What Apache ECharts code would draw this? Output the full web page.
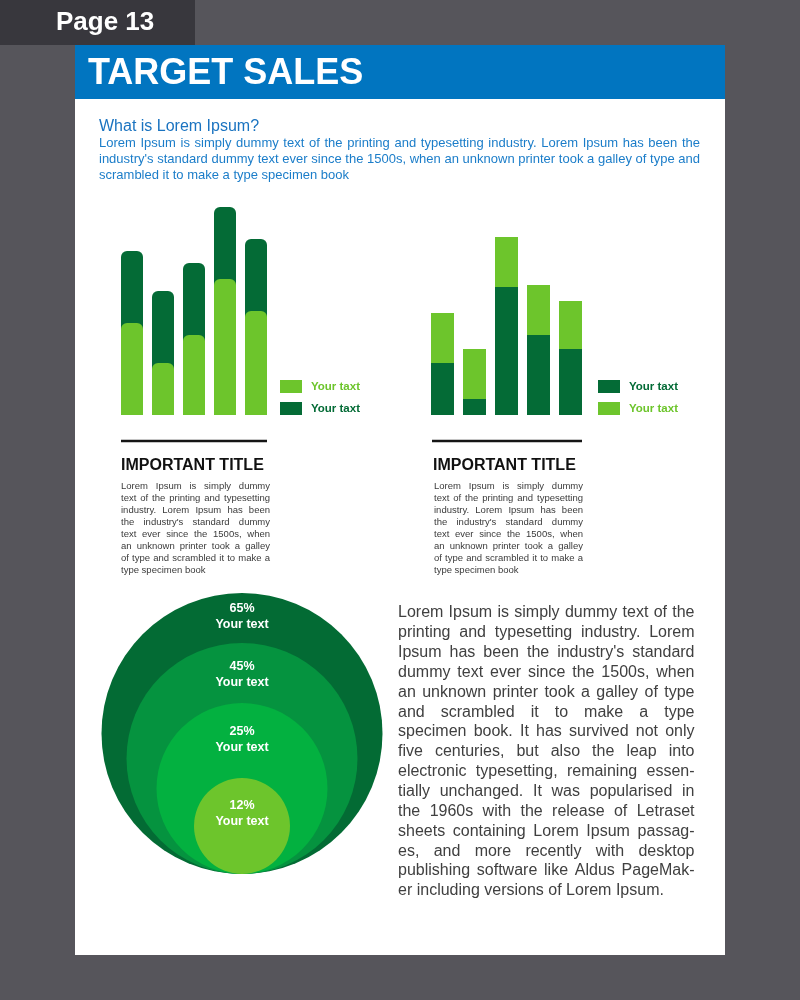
<!DOCTYPE html>
<html><head><meta charset="utf-8">
<script src="https://cdn.jsdelivr.net/npm/echarts@6/dist/echarts.min.js"></script>
<style>html,body{margin:0;padding:0;background:#56555b}#c{width:800px;height:1000px}</style>
</head><body><div id="c"></div>
<script>
// ---------- data ----------
const barCategories = ['1', '2', '3', '4', '5'];
const leftLight = [46, 26, 40, 68, 52];
const leftDark = [36, 36, 36, 36, 36];
const rightDark = [26, 8, 64, 40, 33];
const rightLight = [25, 25, 25, 25, 24];
const legendText = 'Your taxt';
const circleValues = [65, 45, 25, 12];
const circleText = 'Your text';
const pageLabel = 'Page 13';
const mainTitle = 'TARGET SALES';
const introTitle = 'What is Lorem Ipsum?';
const introLines = [
  'Lorem Ipsum is simply dummy text of the printing and typesetting industry. Lorem Ipsum has been the',
  "industry's standard dummy text ever since the 1500s, when an unknown printer took a galley of type and",
  'scrambled it to make a type specimen book'
];
const sectionTitle = 'IMPORTANT TITLE';
const smallLines = [
  'Lorem Ipsum is simply dummy',
  'text of the printing and typesetting',
  'industry. Lorem Ipsum has been',
  "the industry's standard dummy",
  'text ever since the 1500s, when',
  'an unknown printer took a galley',
  'of type and scrambled it to make a',
  'type specimen book'
];
const bodyLines = [
  'Lorem Ipsum is simply dummy text of the',
  'printing and typesetting industry. Lorem',
  "Ipsum has been the industry's standard",
  'dummy text ever since the 1500s, when',
  'an unknown printer took a galley of type',
  'and scrambled it to make a type',
  'specimen book. It has survived not only',
  'five centuries, but also the leap into',
  'electronic typesetting, remaining essen-',
  'tially unchanged. It was popularised in',
  'the 1960s with the release of Letraset',
  'sheets containing Lorem Ipsum passag-',
  'es, and more recently with desktop',
  'publishing software like Aldus PageMak-',
  'er including versions of Lorem Ipsum.'
];

// ---------- styles ----------
const FF = "'Liberation Sans', Arial, Helvetica, sans-serif";
const LIGHT = '#6dc52c';
const DARK = '#046b36';
const circleColors = ['#036b34', '#05933f', '#03b140', '#6dc52c'];
const circleRadius = [140.5, 115.5, 85.5, 48];
const circleLabelOffset = [8, 16, 21, 20];

const mctx = document.createElement('canvas').getContext('2d');
function textEl(str, x, y, size, color, weight, z) {
  return { type: 'text', x: x, y: y + 0.09 * size, z: z || 10, silent: true,
    style: { text: str, fill: color, fontSize: size, fontFamily: FF, fontWeight: weight || 'normal',
      align: 'left', verticalAlign: 'middle' } };
}
function paragraph(lines, x, y, width, lineH, size, color, justifyLast) {
  const els = [];
  mctx.font = 'normal ' + size + "px 'Liberation Sans'";
  const spaceW = mctx.measureText(' ').width;
  lines.forEach(function (line, i) {
    const ty = y + i * lineH;
    const words = line.split(' ');
    const last = i === lines.length - 1 && !justifyLast;
    const widths = words.map(function (w) { return mctx.measureText(w).width; });
    const total = widths.reduce(function (a, b) { return a + b; }, 0);
    const gap = (last || words.length < 2) ? spaceW : (width - total) / (words.length - 1);
    let cx = x;
    words.forEach(function (w, j) {
      els.push(textEl(w, cx, ty, size, color, 'normal'));
      cx += widths[j] + gap;
    });
  });
  return els;
}

const graphics = [
  { type: 'rect', z: 0, silent: true, shape: { x: 0, y: 0, width: 195, height: 45 }, style: { fill: '#38373d' } },
  { type: 'rect', z: 0, silent: true, shape: { x: 75, y: 45, width: 650, height: 910 }, style: { fill: '#ffffff' } },
  { type: 'rect', z: 0, silent: true, shape: { x: 75, y: 45, width: 650, height: 54 }, style: { fill: '#0175c0' } },
  textEl(pageLabel, 56, 20, 26, '#ffffff', 'bold'),
  textEl(mainTitle, 88, 71, 36, '#ffffff', 'bold'),
  textEl(introTitle, 99, 125, 16, '#1a73c0', 'normal'),
  { type: 'line', z: 10, silent: true, shape: { x1: 121, y1: 441, x2: 267, y2: 441 }, style: { stroke: '#151515', lineWidth: 2.5 } },
  { type: 'line', z: 10, silent: true, shape: { x1: 432, y1: 441, x2: 582, y2: 441 }, style: { stroke: '#151515', lineWidth: 2.5 } },
  textEl(sectionTitle, 121, 464, 16, '#111111', 'bold'),
  textEl(sectionTitle, 433, 464, 16, '#111111', 'bold')
].concat(
  paragraph(introLines, 99, 142, 601, 16, 13, '#1b7dc9', false),
  paragraph(smallLines, 121, 486, 149, 12, 9.5, '#3a3a3a', false),
  paragraph(smallLines, 434, 486, 149, 12, 9.5, '#3a3a3a', false),
  paragraph(bodyLines, 398, 611.5, 296.5, 19.85, 16, '#404040', false)
);

const hiddenCat = { type: 'category', data: barCategories, show: false };
const hiddenVal = { type: 'value', min: 0, max: 104, show: false };

const option = {
  backgroundColor: '#56555b',
  animation: false,
  graphic: { elements: graphics },
  grid: [
    { left: 116.5, width: 155, top: 207, height: 208 },
    { left: 426.5, width: 160, top: 207, height: 208 },
    { left: 101.5, width: 281, top: 593, height: 281 }
  ],
  xAxis: [
    Object.assign({ gridIndex: 0 }, hiddenCat),
    Object.assign({ gridIndex: 1 }, hiddenCat),
    { gridIndex: 2, type: 'value', min: -140.5, max: 140.5, show: false }
  ],
  yAxis: [
    Object.assign({ gridIndex: 0 }, hiddenVal),
    Object.assign({ gridIndex: 1 }, hiddenVal),
    { gridIndex: 2, type: 'value', min: 0, max: 281, show: false }
  ],
  legend: [
    { left: 280, top: 380, padding: 0, orient: 'vertical', itemWidth: 22, itemHeight: 13, itemGap: 9, icon: 'rect',
      selectedMode: false, formatter: function () { return legendText; },
      textStyle: { fontFamily: FF, fontWeight: 'bold', fontSize: 11.5, padding: [0, 0, 0, 4] },
      data: [{ name: 'Left light', textStyle: { color: LIGHT } }, { name: 'Left dark', textStyle: { color: DARK } }] },
    { left: 598, top: 380, padding: 0, orient: 'vertical', itemWidth: 22, itemHeight: 13, itemGap: 9, icon: 'rect',
      selectedMode: false, formatter: function () { return legendText; },
      textStyle: { fontFamily: FF, fontWeight: 'bold', fontSize: 11.5, padding: [0, 0, 0, 4] },
      data: [{ name: 'Right dark', textStyle: { color: DARK } }, { name: 'Right light', textStyle: { color: LIGHT } }] }
  ],
  series: [
    { name: 'Left dark', type: 'bar', xAxisIndex: 0, yAxisIndex: 0, barWidth: 22, barGap: '-100%',
      data: leftDark.map(function (v, i) { return v + leftLight[i]; }),
      itemStyle: { color: DARK, borderRadius: [6, 6, 0, 0] } },
    { name: 'Left light', type: 'bar', xAxisIndex: 0, yAxisIndex: 0, barWidth: 22, barGap: '-100%',
      data: leftLight, itemStyle: { color: LIGHT, borderRadius: [6, 6, 0, 0] } },
    { name: 'Right dark', type: 'bar', xAxisIndex: 1, yAxisIndex: 1, barWidth: 23, stack: 'r',
      data: rightDark, itemStyle: { color: DARK } },
    { name: 'Right light', type: 'bar', xAxisIndex: 1, yAxisIndex: 1, barWidth: 23, stack: 'r',
      data: rightLight, itemStyle: { color: LIGHT } },
    { name: 'Circles', type: 'scatter', xAxisIndex: 2, yAxisIndex: 2, symbol: 'circle',
      data: circleValues.map(function (v, i) {
        const r = circleRadius[i];
        return { value: [0, r, v], symbolSize: 2 * r, itemStyle: { color: circleColors[i], opacity: 1 },
          label: { position: ['50%', circleLabelOffset[i]] } };
      }),
      label: { show: true, align: 'center', verticalAlign: 'top', color: '#ffffff', fontFamily: FF,
        fontWeight: 'bold', fontSize: 12.5, lineHeight: 16,
        formatter: function (p) { return p.value[2] + '%\n' + circleText; } },
      emphasis: { disabled: true } }
  ]
};
const chart = echarts.init(document.getElementById('c'), null, { renderer: 'canvas' });
chart.setOption(option);
</script></body></html>
